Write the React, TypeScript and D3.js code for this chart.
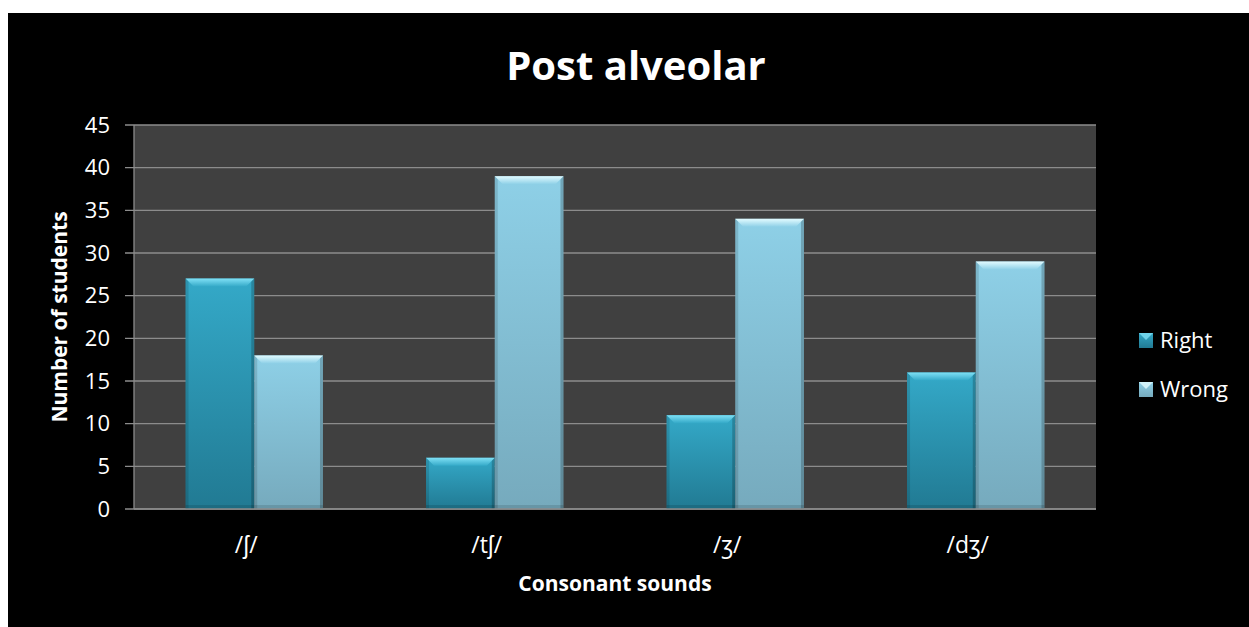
import React from "react";
import * as d3 from "d3";

const categories = ["/ʃ/", "/tʃ/", "/ʒ/", "/dʒ/"];
const seriesNames = ["Right", "Wrong"];
const rightValues = [27, 6, 11, 16];
const wrongValues = [18, 39, 34, 29];
const yTicks = [0, 5, 10, 15, 20, 25, 30, 35, 40, 45];

const W = 1249, H = 627;
const plot = { left: 134, right: 1096, top: 125, bottom: 509 };
const FONT = "'Open Sans', 'Noto Sans', sans-serif";

export default function App() {
  const x0 = d3.scaleBand<string>().domain(categories).range([plot.left, plot.right]).paddingInner(0).paddingOuter(0);
  const bw = x0.bandwidth();
  const groupW = (bw / 3.5) * 2;
  const x1 = d3.scaleBand<string>().domain(seriesNames).range([0, groupW]).padding(0);
  const y = d3.scaleLinear().domain([0, 45]).range([plot.bottom, plot.top]);
  const series = [
    { name: "Right", values: rightValues, top: "#34a9c8", bottom: "#217a93", hi: "#7fe0f5", grad: "gR" },
    { name: "Wrong", values: wrongValues, top: "#8ed0e7", bottom: "#76aabd", hi: "#e2fbff", grad: "gW" },
  ];
  return (
    <svg width={W} height={H} style={{ position: "absolute", left: 0, top: 0, display: "block" }}>
      <defs>
        {series.map((s) => (
          <linearGradient key={s.grad} id={s.grad} x1="0" y1="0" x2="0" y2="1">
            <stop offset="0" stopColor={s.top} />
            <stop offset="1" stopColor={s.bottom} />
          </linearGradient>
        ))}
        {series.map((s) => (
          <linearGradient key={s.grad + "h"} id={s.grad + "h"} x1="0" y1="0" x2="0" y2="1">
            <stop offset="0" stopColor={s.hi} />
            <stop offset="1" stopColor={s.top} />
          </linearGradient>
        ))}
      </defs>
      <rect x={0} y={0} width={W} height={H} fill="#ffffff" />
      <rect x={8} y={13} width={W - 8} height={H - 13} fill="#000000" />
      <rect x={plot.left} y={plot.top} width={plot.right - plot.left} height={plot.bottom - plot.top} fill="#404040" />
      {yTicks.map((t) => (
        <g key={t}>
          <line x1={plot.left - 9} x2={plot.right} y1={y(t)} y2={y(t)} stroke="#8c8c8c" strokeWidth={1.3} />
          <text x={110} y={y(t)} dy="0.35em" textAnchor="end" fill="#ffffff" fontFamily={FONT} fontSize={22}>{t}</text>
        </g>
      ))}
      <line x1={plot.left} x2={plot.left} y1={plot.top} y2={plot.bottom} stroke="#8c8c8c" strokeWidth={1.3} />
      {categories.map((c, i) => {
        const gx = (x0(c) as number) + (bw - groupW) / 2;
        return (
          <g key={c}>
            {series.map((s) => {
              const v = s.values[i];
              const bx = gx + (x1(s.name) as number);
              const w = x1.bandwidth();
              const ty = y(v);
              const h = plot.bottom - ty;
              const bev = Math.min(8, h / 2);
              return (
                <g key={s.name}>
                  <rect x={bx} y={ty} width={w} height={h} fill={`url(#${s.grad})`} />
                  <rect x={bx} y={ty} width={3} height={h} fill="#000" opacity={0.12} />
                  <rect x={bx + w - 3} y={ty} width={3} height={h} fill="#000" opacity={0.2} />
                  <rect x={bx} y={plot.bottom - 4} width={w} height={4} fill="#000" opacity={0.12} />
                  <path d={`M${bx},${ty}L${bx + w},${ty}L${bx + w - bev},${ty + bev}L${bx + bev},${ty + bev}Z`} fill={`url(#${s.grad}h)`} />
                </g>
              );
            })}
            <text x={(x0(c) as number) + bw / 2} dx={-8} y={545} dy="0.35em" textAnchor="middle" fill="#ffffff" fontFamily={FONT} fontSize={23}>{c}</text>
          </g>
        );
      })}
      <line x1={plot.left} x2={plot.right} y1={plot.bottom} y2={plot.bottom} stroke="#8c8c8c" strokeWidth={1.3} />
      <text x={636} y={66} dy="0.35em" textAnchor="middle" fill="#ffffff" fontFamily={FONT} fontWeight="bold" fontSize={40}>Post alveolar</text>
      <text transform={`translate(60,317) rotate(-90)`} dy="0.35em" textAnchor="middle" fill="#ffffff" fontFamily={FONT} fontWeight="bold" fontSize={21}>Number of students</text>
      <text x={615} y={584} dy="0.35em" textAnchor="middle" fill="#ffffff" fontFamily={FONT} fontWeight="bold" fontSize={21}>Consonant sounds</text>
      {series.map((s, i) => {
        const ly = 340 + i * 49;
        return (
          <g key={s.name}>
            <rect x={1139} y={ly - 7} width={14} height={15} fill={`url(#${s.grad})`} />
            <path d={`M1139,${ly - 7}L1153,${ly - 7}L1146,${ly}Z`} fill={s.hi} opacity={0.8} />
            <text x={1160} y={ly} dy="0.35em" fill="#ffffff" fontFamily={FONT} fontSize={22}>{s.name}</text>
          </g>
        );
      })}
    </svg>
  );
}
